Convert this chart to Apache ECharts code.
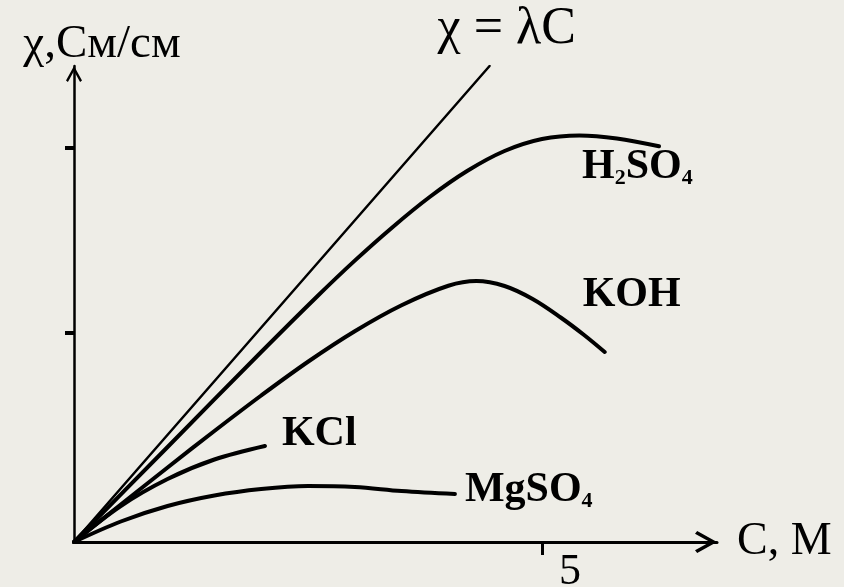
<!DOCTYPE html>
<html>
<head>
<meta charset="utf-8">
<script src="https://cdn.jsdelivr.net/npm/echarts@6/dist/echarts.min.js"></script>
<style>
  html, body { margin: 0; padding: 0; background: #eeede7; }
  #chart { width: 844px; height: 587px; }
</style>
</head>
<body>
<div id="chart"></div>
<script>
// ---- data (concentration C, M ; conductivity χ, S/cm approx.) ----
const lambdaX = [0, 4.44];
const lambdaY = [0, 0.952];

const h2so4X = [0, 1.0, 2.0, 2.6, 3.0, 3.4, 3.8, 4.2, 4.6, 5.0, 5.4, 5.8, 6.25];
const h2so4Y = [0, 0.19, 0.38, 0.4916, 0.5628, 0.6292, 0.69, 0.742, 0.782, 0.806, 0.8132, 0.8072, 0.7915];

const kohX = [0, 0.5, 1.0, 1.5, 2.0, 2.5, 3.0, 3.5, 4.0, 4.3, 4.6, 4.9, 5.2, 5.45, 5.67];
const kohY = [0, 0.075, 0.149, 0.222, 0.293, 0.3605, 0.4215, 0.4735, 0.5125, 0.522, 0.512, 0.486, 0.449, 0.414, 0.38];

const kclX = [0, 0.5, 1.0, 1.5, 2.04];
const kclY = [0, 0.072, 0.126, 0.165, 0.192];

const mgso4X = [0, 0.5, 1.0, 1.5, 2.0, 2.5, 3.0, 3.5, 4.07];
const mgso4Y = [0, 0.041, 0.072, 0.093, 0.106, 0.112, 0.11, 0.102, 0.096];

const xTickValues = [5];
const yTickValues = [0.418, 0.788];

const xName = 'C, M';
const yName = 'χ,См/см';
const lambdaLabel = 'χ = λC';

function zip(xs, ys) { return xs.map((x, i) => [x, ys[i]]); }

const serif = '"Liberation Serif", "Times New Roman", serif';
const richLabel = {
  b: { fontFamily: serif, fontWeight: 'bold', fontSize: 42, lineHeight: 44, color: '#000' },
  s: { fontFamily: serif, fontWeight: 'bold', fontSize: 22, lineHeight: 12, verticalAlign: 'bottom', color: '#000' }
};

function curve(name, xs, ys, label, offset, width, smooth) {
  return {
    name: name,
    type: 'line',
    data: zip(xs, ys),
    showSymbol: false,
    smooth: smooth,
    lineStyle: { color: '#000', width: width, cap: 'round', join: 'round' },
    endLabel: {
      show: true,
      formatter: label,
      offset: offset,
      distance: 8,
      color: '#000',
      rich: richLabel,
      fontFamily: serif
    },
    z: 3
  };
}

const chart = echarts.init(document.getElementById('chart'), null, { renderer: 'canvas' });

const chevron = 'path://M10,0L20,18L17.6,20L10,6.4L2.4,20L0,18Z';

chart.setOption({
  animation: false,
  backgroundColor: 'transparent',
  grid: { left: 74, right: 127, top: 66, bottom: 45, containLabel: false, outerBoundsMode: 'none' },
  xAxis: {
    type: 'value',
    min: 0,
    max: 6.87,
    name: xName,
    nameLocation: 'end',
    nameGap: 20,
    nameTextStyle: { fontFamily: serif, fontSize: 46, color: '#000', verticalAlign: 'middle', padding: [0, 0, 10, 0] },
    axisLine: {
      show: true,
      onZero: false,
      symbol: ['none', chevron],
      symbolSize: [24, 22],
      symbolOffset: [0, -11],
      lineStyle: { color: '#000', width: 3 }
    },
    axisTick: { show: true, customValues: xTickValues, length: 13, lineStyle: { color: '#000', width: 3 } },
    axisLabel: {
      show: true,
      customValues: xTickValues,
      margin: 8,
      fontFamily: serif,
      fontSize: 44,
      color: '#000',
      align: 'center',
      padding: [0, 0, 0, 56],
      formatter: v => String(v)
    },
    splitLine: { show: false }
  },
  yAxis: {
    type: 'value',
    min: 0,
    max: 0.952,
    name: yName,
    nameLocation: 'end',
    nameGap: 21,
    nameTextStyle: { fontFamily: serif, fontSize: 47, color: '#000', align: 'center', verticalAlign: 'middle', padding: [0, 0, 0, 56] },
    axisLine: {
      show: true,
      onZero: false,
      symbol: ['none', chevron],
      symbolSize: [16, 17],
      symbolOffset: [0, -8],
      lineStyle: { color: '#000', width: 2.5 }
    },
    axisTick: { show: true, customValues: yTickValues, length: 9, lineStyle: { color: '#000', width: 4 } },
    axisLabel: { show: false },
    splitLine: { show: false }
  },
  series: [
    curve('lambda', lambdaX, lambdaY, lambdaLabel, [-60, -37], 2.5, false),
    curve('H2SO4', h2so4X, h2so4Y, '{b|H}{s|2}{b|SO}{s|4}', [-85, 21], 4, 0.35),
    curve('KOH', kohX, kohY, '{b|KOH}', [-30, -57], 4, 0.35),
    curve('KCl', kclX, kclY, '{b|KCl}', [9, -12], 4, 0.35),
    curve('MgSO4', mgso4X, mgso4Y, '{b|MgSO}{s|4}', [2, -4], 4, 0.35)
  ]
});
// the lambda label is plain (not bold)
chart.setOption({
  series: [{ name: 'lambda', endLabel: { fontSize: 52, fontWeight: 'normal', fontFamily: serif, color: '#000' } }]
});
</script>
</body>
</html>
